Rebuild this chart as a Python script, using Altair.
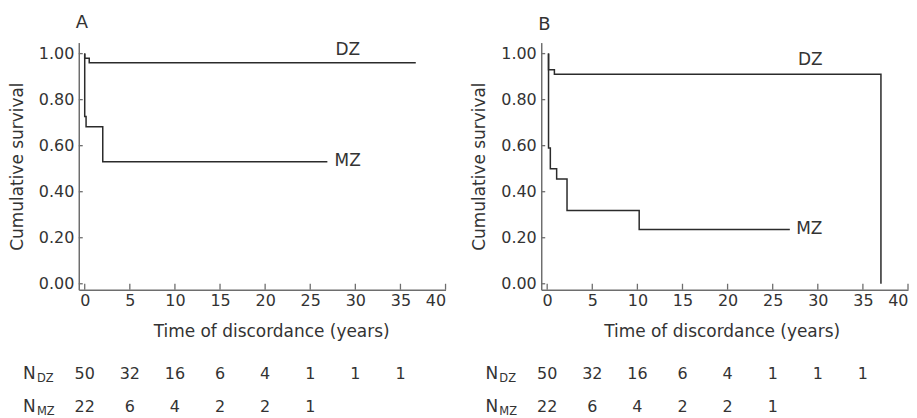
import altair as alt
import pandas as pd

# ---------------- data ----------------
x_ticks = [0, 5, 10, 15, 20, 25, 30, 35, 40]
y_ticks = [0.0, 0.2, 0.4, 0.6, 0.8, 1.0]

# Panel A: Kaplan-Meier steps (time in years, cumulative survival)
a_dz_t = [0.0, 0.0, 0.5, 36.7]
a_dz_s = [1.0, 0.98, 0.96, 0.96]
a_mz_t = [0.0, 0.0, 0.15, 2.0, 26.9]
a_mz_s = [1.0, 0.727, 0.682, 0.53, 0.53]

# Panel B
b_dz_t = [0.15, 0.15, 0.8, 37.0, 37.0]
b_dz_s = [1.0, 0.93, 0.91, 0.91, 0.0]
b_mz_t = [0.15, 0.15, 0.35, 1.05, 2.2, 10.2, 26.9]
b_mz_s = [1.0, 0.59, 0.50, 0.455, 0.318, 0.236, 0.236]

# curve end labels
a_lab = ["DZ", "MZ"]
a_lab_t = [27.8, 27.7]
a_lab_s = [1.016, 0.532]
b_lab = ["DZ", "MZ"]
b_lab_t = [27.8, 27.6]
b_lab_s = [0.973, 0.239]

# numbers at risk
risk_t = [0, 5, 10, 15, 20, 25, 30, 35]
n_dz = [50, 32, 16, 6, 4, 1, 1, 1]
n_mz = [22, 6, 4, 2, 2, 1]
rows = ["DZ", "MZ"]

# ---------------- style ----------------
FONT = "DejaVu Sans"
TXT = "#333333"
AX = "#6e6e6e"
LINE = "#2b2b2b"
W, H = 368, 248
xs = alt.Scale(domain=[-0.66, 40], nice=False, zero=False)
ys = alt.Scale(domain=[-0.026, 1.048], nice=False, zero=False)
rs = alt.Scale(domain=rows, range=[333, 366], padding=0)


def curves_df(dz_t, dz_s, mz_t, mz_s):
    recs = []
    for g, ts, ss in (("DZ", dz_t, dz_s), ("MZ", mz_t, mz_s)):
        for i, (t, s) in enumerate(zip(ts, ss)):
            recs.append({"grp": g, "i": i, "t": t, "s": s})
    return pd.DataFrame(recs)


risk_df = pd.DataFrame(
    [{"row": "DZ", "t": t, "n": n} for t, n in zip(risk_t, n_dz)]
    + [{"row": "MZ", "t": t, "n": n} for t, n in zip(risk_t, n_mz)]
)
rows_df = pd.DataFrame({"row": rows})


def panel(letter, cdf, labs, lab_t, lab_s, title_x):
    xaxis = alt.Axis(
        values=x_ticks, format="d", ticks=False, grid=False,
        domainColor=AX, domainWidth=1.5, labelPadding=3,
        labelFontSize=16, labelColor=TXT, labelFont=FONT,
        title="Time of discordance (years)", titleFontSize=17,
        titleFontWeight="normal", titleColor=TXT, titleFont=FONT,
        titlePadding=15, titleX=title_x,
    )
    yaxis = alt.Axis(
        values=y_ticks, format=".2f", ticks=False, grid=False,
        domainColor=AX, domainWidth=1.5, labelPadding=5,
        labelFontSize=16, labelColor=TXT, labelFont=FONT,
        title="Cumulative survival", titleFontSize=17,
        titleFontWeight="normal", titleColor=TXT, titleFont=FONT,
        titlePadding=12,
    )
    X = lambda: alt.X("t:Q", scale=xs, axis=xaxis)

    curves = alt.Chart(cdf).mark_line(
        interpolate="step-after", color=LINE, strokeWidth=1.5
    ).encode(x=X(), y=alt.Y("s:Q", scale=ys, axis=yaxis), detail="grp:N", order="i:Q")

    ldf = pd.DataFrame({"label": labs, "t": lab_t, "s": lab_s})
    labels = alt.Chart(ldf).mark_text(
        align="left", baseline="middle", fontSize=17, font=FONT, color=TXT
    ).encode(x=X(), y=alt.Y("s:Q", scale=ys, axis=None), text="label:N")

    xt = alt.Chart(pd.DataFrame({"t": x_ticks})).mark_rule(
        color=AX, strokeWidth=1.3
    ).encode(x=X(), y=alt.value(H), y2=alt.value(H - 6))

    yt = alt.Chart(pd.DataFrame({"s": y_ticks})).mark_rule(
        color=AX, strokeWidth=1.3
    ).encode(y=alt.Y("s:Q", scale=ys, axis=None), x=alt.value(0), x2=alt.value(4))

    table = alt.Chart(risk_df).mark_text(
        align="center", baseline="middle", fontSize=16, font=FONT, color=TXT
    ).encode(x=X(), y=alt.Y("row:N", scale=rs, axis=None), text="n:Q")

    head_n = alt.Chart(rows_df).mark_text(
        align="left", baseline="middle", fontSize=17, font=FONT, color=TXT,
        text="N",
    ).encode(x=alt.value(-56), y=alt.Y("row:N", scale=rs, axis=None))

    head_sub = alt.Chart(rows_df).mark_text(
        align="left", baseline="middle", fontSize=11.5, font=FONT, color=TXT, dy=5,
    ).encode(x=alt.value(-42), y=alt.Y("row:N", scale=rs, axis=None), text="row:N")

    return alt.layer(curves, labels, xt, yt, table, head_n, head_sub).resolve_scale(
        y="independent"
    ).properties(
        width=W, height=H,
        title=alt.TitleParams(
            letter, anchor="start", frame="group", fontSize=18,
            fontWeight="normal", font=FONT, color=TXT, offset=9, dx=-3,
        ),
    )


pa = panel("A", curves_df(a_dz_t, a_dz_s, a_mz_t, a_mz_s), a_lab, a_lab_t, a_lab_s, 193)
pb = panel("B", curves_df(b_dz_t, b_dz_s, b_mz_t, b_mz_s), b_lab, b_lab_t, b_lab_s, 181)

chart = alt.hconcat(pa, pb, spacing=24).properties(
    padding={"top": 5, "left": 0, "right": 0, "bottom": 0}
).configure_view(stroke=None)

chart.save("out.html", embed_options={"renderer": "svg", "actions": False})
